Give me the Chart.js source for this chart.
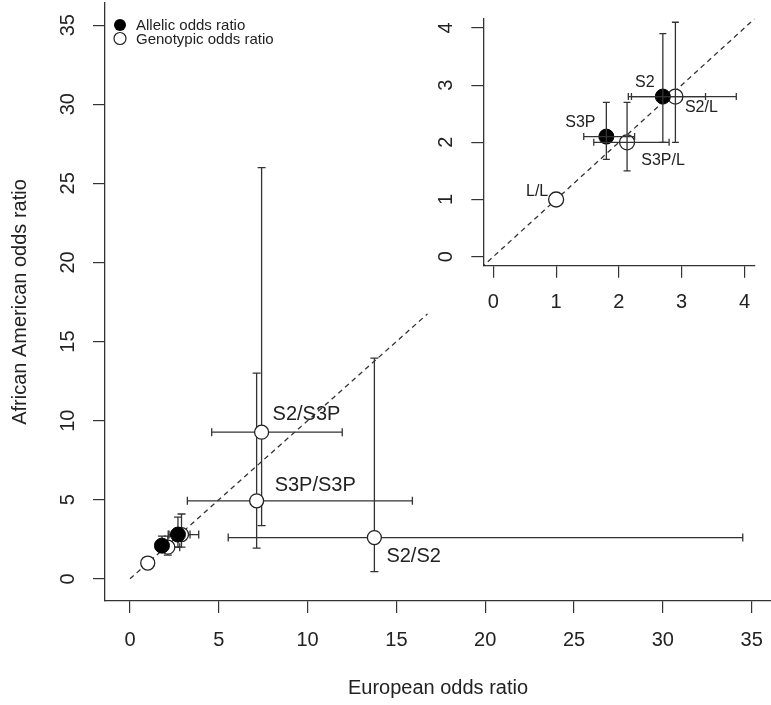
<!DOCTYPE html>
<html>
<head>
<meta charset="utf-8">
<script src="https://cdn.jsdelivr.net/npm/chart.js@4.4.0/dist/chart.umd.min.js"></script>
<style>
  html, body { margin: 0; padding: 0; background: #fff; }
  #wrap { position: relative; width: 771px; height: 705px; }
  #mainChart { position: absolute; left: 0; top: 0; }
  #insetChart { position: absolute; left: 420px; top: 0; }
</style>
</head>
<body>
<div id="wrap">
  <canvas id="mainChart" width="771" height="705"></canvas>
  <canvas id="insetChart" width="351" height="330"></canvas>
</div>
<script>
// ---- valores ----
const allelicNames = ['S3P', 'S2'];
const allelicEU   = [1.8, 2.7];
const allelicEULo = [1.44, 2.15];
const allelicEUHi = [2.25, 3.38];
const allelicAA   = [2.1, 2.8];
const allelicAALo = [1.7, 2.0];
const allelicAAHi = [2.7, 3.9];

const genoNames = ['L/L', 'S3P/L', 'S2/L', 'S3P/S3P', 'S2/S3P', 'S2/S2'];
const genoEU   = [1.0, 2.13, 2.9, 7.13, 7.41, 13.76];
const genoEULo = [null, 1.6, 2.2, 3.23, 4.6, 5.53];
const genoEUHi = [null, 2.8, 3.87, 15.9, 11.95, 34.5];
const genoAA   = [1.0, 2.0, 2.8, 4.93, 9.27, 2.61];
const genoAALo = [null, 1.5, 2.0, 1.94, 3.37, 0.46];
const genoAAHi = [null, 2.7, 4.1, 13.0, 26.0, 13.95];

const mainTicks = [0, 5, 10, 15, 20, 25, 30, 35];
const insetTicks = [0, 1, 2, 3, 4];
const diagMainEnd = 16.75;

const legendItems = ['Allelic odds ratio', 'Genotypic odds ratio'];
const xTitle = 'European odds ratio';
const yTitle = 'African American odds ratio';

// etiquetas: desplazamiento en px respecto al punto
const mainLabels = [
    { name: 'S2/S3P', dx: 11, dy: -18, align: 'left' },
    { name: 'S3P/S3P', dx: 18, dy: -15, align: 'left' },
    { name: 'S2/S2', dx: 12, dy: 19, align: 'left' }
];
const insetLabels = [
    { name: 'L/L', dx: -19, dy: -8, align: 'center' },
    { name: 'S3P', dx: -26, dy: -14, align: 'center' },
    { name: 'S2', dx: -18, dy: -14, align: 'center' },
    { name: 'S2/L', dx: 26, dy: 11, align: 'center' },
    { name: 'S3P/L', dx: 36, dy: 18, align: 'center' }
];

const FONT = '"Liberation Sans", Arial, Helvetica, sans-serif';
const INK = '#222';

// ---- armado ----
const pts = (xs, ys) => xs.map((x, i) => ({ x: x, y: ys[i] }));

const allPoints = [];
allelicNames.forEach((n, i) => allPoints.push({
    name: n, x: allelicEU[i], y: allelicAA[i],
    xlo: allelicEULo[i], xhi: allelicEUHi[i], ylo: allelicAALo[i], yhi: allelicAAHi[i]
}));
genoNames.forEach((n, i) => allPoints.push({
    name: n, x: genoEU[i], y: genoAA[i],
    xlo: genoEULo[i], xhi: genoEUHi[i], ylo: genoAALo[i], yhi: genoAAHi[i]
}));

function errorBars(cap, onTop) {
    const draw = (chart) => {
        const { ctx, chartArea: a, scales: { x, y } } = chart;
        ctx.save();
        ctx.beginPath();
        ctx.rect(a.left, a.top, a.right - a.left, a.bottom - a.top);
        ctx.clip();
        ctx.strokeStyle = '#333';
        ctx.lineWidth = 1.3;
        allPoints.forEach(b => {
            if (b.xlo == null) return;
            const px = x.getPixelForValue(b.x), py = y.getPixelForValue(b.y);
            const x0 = x.getPixelForValue(b.xlo), x1 = x.getPixelForValue(b.xhi);
            const y0 = y.getPixelForValue(b.ylo), y1 = y.getPixelForValue(b.yhi);
            ctx.beginPath();
            ctx.moveTo(x0, py); ctx.lineTo(x1, py);
            ctx.moveTo(x0, py - cap); ctx.lineTo(x0, py + cap);
            ctx.moveTo(x1, py - cap); ctx.lineTo(x1, py + cap);
            ctx.moveTo(px, y0); ctx.lineTo(px, y1);
            ctx.moveTo(px - cap, y0); ctx.lineTo(px + cap, y0);
            ctx.moveTo(px - cap, y1); ctx.lineTo(px + cap, y1);
            ctx.stroke();
        });
        ctx.restore();
    };
    return onTop ? { id: 'errbars', afterDatasetsDraw: draw } : { id: 'errbars', beforeDatasetsDraw: draw };
}

function rotText(ctx, txt, x, y) {
    ctx.save();
    ctx.translate(x, y);
    ctx.rotate(-Math.PI / 2);
    ctx.fillText(txt, 0, 0);
    ctx.restore();
}

function drawLabels(chart, list, size) {
    const { ctx, scales: { x, y } } = chart;
    ctx.font = size + 'px ' + FONT;
    ctx.textBaseline = 'middle';
    list.forEach(l => {
        const p = allPoints.find(q => q.name === l.name);
        ctx.textAlign = l.align;
        ctx.fillText(l.name, x.getPixelForValue(p.x) + l.dx, y.getPixelForValue(p.y) + l.dy);
    });
}

function axis(min, max, ticks, size, pos) {
    return {
        type: 'linear',
        position: pos,
        min: min,
        max: max,
        afterBuildTicks: s => { s.ticks = ticks.map(v => ({ value: v })); },
        afterFit: s => { if (pos === 'bottom') s.height = size; else s.width = size; },
        ticks: { display: false },
        grid: { drawOnChartArea: false, drawTicks: true, tickLength: 12, color: '#333', lineWidth: 1.2 },
        border: { display: true, color: '#333', width: 1.3 }
    };
}

const mainText = {
    id: 'mainText',
    afterDraw(chart) {
        const { ctx, chartArea: a, scales: { x, y } } = chart;
        ctx.save();
        ctx.fillStyle = INK;
        ctx.font = '20px ' + FONT;
        ctx.textAlign = 'center';
        ctx.textBaseline = 'middle';
        mainTicks.forEach(v => ctx.fillText(String(v), x.getPixelForValue(v), a.bottom + 39));
        mainTicks.forEach(v => rotText(ctx, String(v), a.left - 37, y.getPixelForValue(v)));
        ctx.fillText(xTitle, (a.left + a.right) / 2, a.bottom + 87);
        rotText(ctx, yTitle, 20, (a.top + a.bottom) / 2);

        drawLabels(chart, mainLabels, 20);

        // leyenda
        ctx.font = '15px ' + FONT;
        ctx.textAlign = 'left';
        legendItems.forEach((t, i) => {
            const cy = 25 + i * 13.5;
            ctx.beginPath();
            ctx.arc(120, cy, 6, 0, Math.PI * 2);
            if (i === 0) { ctx.fillStyle = '#000'; ctx.fill(); }
            else { ctx.fillStyle = '#fff'; ctx.fill(); ctx.strokeStyle = INK; ctx.lineWidth = 1.2; ctx.stroke(); }
            ctx.fillStyle = INK;
            ctx.fillText(t, 136, cy + 1);
        });
        ctx.restore();
    }
};

const insetText = {
    id: 'insetText',
    afterDraw(chart) {
        const { ctx, chartArea: a, scales: { x, y } } = chart;
        ctx.save();
        ctx.fillStyle = INK;
        ctx.font = '20px ' + FONT;
        ctx.textAlign = 'center';
        ctx.textBaseline = 'middle';
        insetTicks.forEach(v => ctx.fillText(String(v), x.getPixelForValue(v), a.bottom + 37));
        insetTicks.forEach(v => rotText(ctx, String(v), a.left - 37, y.getPixelForValue(v)));
        drawLabels(chart, insetLabels, 16);
        ctx.restore();
    }
};

function makeDatasets(diagFrom, diagTo, rA, rG) {
    return [
        {
            label: legendItems[0],
            data: pts(allelicEU, allelicAA),
            pointRadius: rA,
            pointBackgroundColor: '#000',
            pointBorderColor: '#000',
            pointBorderWidth: 1
        },
        {
            label: legendItems[1],
            data: pts(genoEU, genoAA),
            pointRadius: rG,
            pointBackgroundColor: '#fff',
            pointBorderColor: INK,
            pointBorderWidth: 1.3
        },
        {
            label: 'y = x',
            data: [{ x: diagFrom, y: diagFrom }, { x: diagTo, y: diagTo }],
            showLine: true,
            pointRadius: 0,
            borderColor: '#333',
            borderWidth: 1.3,
            borderDash: [5, 4],
            fill: false
        }
    ];
}

const common = {
    responsive: false,
    animation: false,
    events: [],
    plugins: { legend: { display: false }, tooltip: { enabled: false } }
};

new Chart(document.getElementById('mainChart'), {
    type: 'scatter',
    data: { datasets: makeDatasets(0, diagMainEnd, 7.5, 7) },
    options: Object.assign({}, common, {
        layout: { autoPadding: false, padding: { top: 3, left: 0, right: 0, bottom: 0 } },
        scales: {
            x: axis(-1.407, 36.09, mainTicks, 104, 'bottom'),
            y: axis(-1.4, 36.4, mainTicks, 105, 'left')
        }
    }),
    plugins: [errorBars(4, false), mainText]
});

new Chart(document.getElementById('insetChart'), {
    type: 'scatter',
    data: { datasets: makeDatasets(-0.3, 4.4, 7.5, 7.5) },
    options: Object.assign({}, common, {
        layout: { autoPadding: false, padding: { top: 18.8, left: 0, right: 16.5, bottom: 0 } },
        scales: {
            x: axis(-0.16, 4.16, insetTicks, 64.2, 'bottom'),
            y: axis(-0.16, 4.16, insetTicks, 63.3, 'left')
        }
    }),
    plugins: [errorBars(3.5, true), insetText]
});
</script>
</body>
</html>
